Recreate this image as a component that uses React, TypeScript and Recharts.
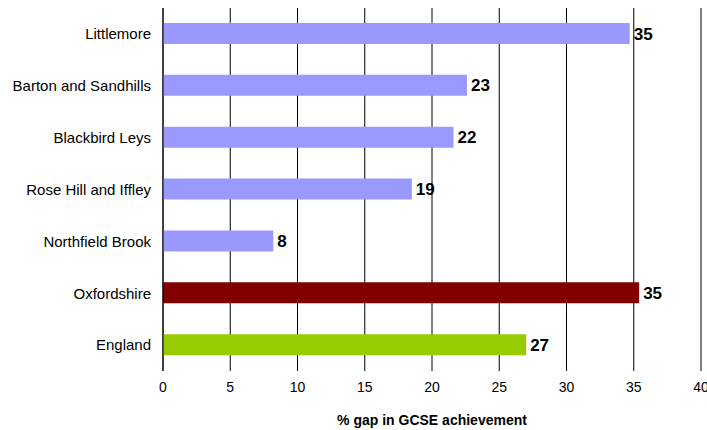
import { BarChart, Bar, XAxis, YAxis, CartesianGrid, Cell, LabelList, Label } from 'recharts'

const areas = ['Littlemore', 'Barton and Sandhills', 'Blackbird Leys', 'Rose Hill and Iffley', 'Northfield Brook', 'Oxfordshire', 'England']
const gapValues = [34.7, 22.6, 21.6, 18.5, 8.2, 35.4, 27.0]
const xTicks = [0, 5, 10, 15, 20, 25, 30, 35, 40]

const data = areas.map((name, i) => ({ name, gap: gapValues[i] }))

function barColor(name: string) {
  if (name === 'Oxfordshire') return '#800000'
  if (name === 'England') return '#99CC00'
  return '#9999FF'
}

export default function App() {
  return (
    <div style={{ position: 'absolute', left: 0, top: 0, background: '#fff', fontFamily: '"Liberation Sans", Arial, sans-serif' }}>
      <BarChart width={707} height={430} data={data} layout="vertical" margin={{ top: 8, right: 6, bottom: 19, left: 0 }}>
        <CartesianGrid horizontal={false} vertical stroke="#000" strokeWidth={1} />
        <XAxis
          type="number"
          domain={[0, 40]}
          ticks={xTicks}
          interval={0}
          axisLine={false}
          tickLine={false}
          tickSize={0}
          tickMargin={11}
          height={40}
          tick={{ fill: '#000', fontSize: 14 }}
        >
          <Label value="% gap in GCSE achievement" position="bottom" offset={4} style={{ fill: '#000', fontSize: 14, fontWeight: 'bold' }} />
        </XAxis>
        <YAxis
          type="category"
          dataKey="name"
          width={163}
          axisLine={{ stroke: '#000' }}
          tickLine={false}
          tickSize={0}
          tickMargin={12}
          tick={{ fill: '#000', fontSize: 15 }}
        />
        <Bar dataKey="gap" barSize={21} isAnimationActive={false}>
          {data.map(d => (
            <Cell key={d.name} fill={barColor(d.name)} />
          ))}
          <LabelList
            dataKey="gap"
            position="right"
            offset={4}
            formatter={(v: any) => Math.round(Number(v))}
            style={{ fill: '#000', fontSize: 17, fontWeight: 'bold' }}
          />
        </Bar>
      </BarChart>
    </div>
  )
}
